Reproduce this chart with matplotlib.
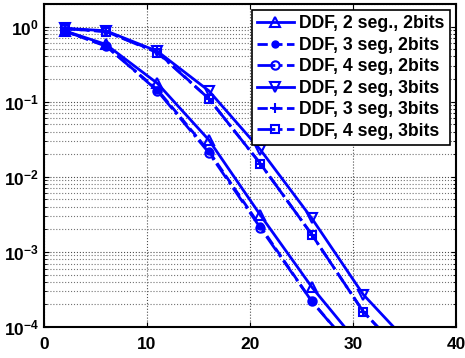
import numpy as np
import matplotlib
matplotlib.use('Agg')
import matplotlib.pyplot as plt

# SNR points (dB)
snr = [2, 6, 11, 16, 21, 26, 31, 36]

# error rates
ddf_2seg_2b = [0.88, 0.58, 0.176, 0.031, 0.0031, 3.4e-4, 5e-5, 7e-6]
ddf_3seg_2b = [0.87, 0.55, 0.145, 0.022, 0.0022, 2.2e-4, 3.5e-5, 5e-6]
ddf_4seg_2b = [0.87, 0.56, 0.14, 0.021, 0.0021, 2.2e-4, 3.4e-5, 5e-6]
ddf_2seg_3b = [0.95, 0.88, 0.47, 0.14, 0.023, 0.0028, 2.7e-4, 5e-5]
ddf_3seg_3b = [0.94, 0.86, 0.46, 0.11, 0.015, 0.0017, 1.6e-4, 3e-5]
ddf_4seg_3b = [0.94, 0.86, 0.45, 0.11, 0.015, 0.0017, 1.6e-4, 3e-5]

labels = ['DDF, 2 seg., 2bits', 'DDF, 3 seg, 2bits', 'DDF, 4 seg, 2bits',
          'DDF, 2 seg, 3bits', 'DDF, 3 seg, 3bits', 'DDF, 4 seg, 3bits']

plt.rcParams['font.family'] = ['Liberation Sans', 'DejaVu Sans']
plt.rcParams['font.weight'] = 'bold'

fig = plt.figure(figsize=(4.65, 3.58), dpi=100)
ax = fig.add_axes([44/465, 1-327/358, 412/465, 323/358])

c = '#0000ff'
ax.semilogy(snr, ddf_2seg_2b, '-', marker='^', color=c, lw=2, ms=7, mfc='none', mew=1.5, label=labels[0])
ax.semilogy(snr, ddf_3seg_2b, '--', marker='.', color=c, lw=2, ms=10, label=labels[1])
ax.semilogy(snr, ddf_4seg_2b, '-.', marker='o', color=c, lw=2, ms=6, mfc='none', mew=1.5, label=labels[2])
ax.semilogy(snr, ddf_2seg_3b, '-', marker='v', color=c, lw=2, ms=7, mfc='none', mew=1.5, label=labels[3])
ax.semilogy(snr, ddf_3seg_3b, '--', marker='+', color=c, lw=2, ms=7, mew=1.5, label=labels[4])
ax.semilogy(snr, ddf_4seg_3b, '-.', marker='s', color=c, lw=2, ms=6, mfc='none', mew=1.5, label=labels[5])

ax.set_xlim(0, 40)
ax.set_ylim(1e-4, 2)
ax.set_xticks([0, 10, 20, 30, 40])
ax.grid(True, which='major', linestyle=':', color='0.3', lw=0.8)
ax.grid(True, which='minor', axis='y', linestyle=':', color='0.45', lw=0.8)
ax.tick_params(direction='in', which='both', top=True, right=True, labelsize=12.5)
ax.tick_params(axis='x', pad=7)
for lab in ax.get_xticklabels() + ax.get_yticklabels():
    lab.set_fontweight('bold')
for s in ax.spines.values():
    s.set_linewidth(1.5)

leg = ax.legend(loc='upper right', handlelength=2.1, borderaxespad=0.35,
                fancybox=False, framealpha=1, edgecolor='black',
                labelspacing=0.25, borderpad=0.3, handletextpad=0.3,
                prop={'weight': 'bold', 'size': 12.7})
leg.get_frame().set_linewidth(1.2)

plt.savefig('out.png', dpi=100)
plt.close()
